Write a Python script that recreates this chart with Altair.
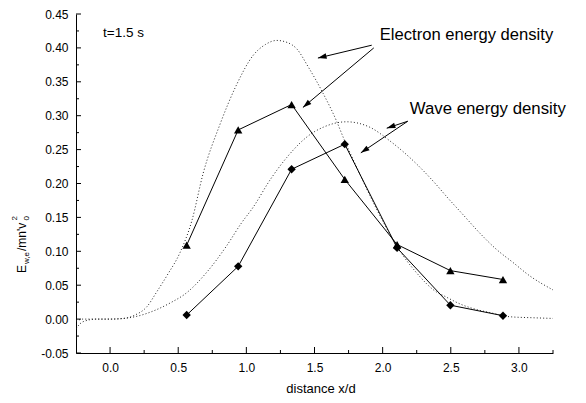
import math
import altair as alt
import pandas as pd

# ---------------- data ----------------
# measured series (markers)
pos_x = [0.562, 0.940, 1.332, 1.722, 2.106, 2.497, 2.883]
electron_y = [0.109, 0.279, 0.3165, 0.206, 0.110, 0.0715, 0.0584]   # triangles
wave_y = [0.006, 0.0778, 0.221, 0.258, 0.105, 0.0205, 0.005]        # diamonds

# dotted model curves
curveA_x = [-0.25, -0.2, -0.1, 0.0, 0.1, 0.183, 0.269, 0.342, 0.42, 0.513, 0.6, 0.683,
            0.806, 0.929, 1.05, 1.14, 1.222, 1.30, 1.368, 1.454, 1.563, 1.662, 1.711,
            1.8, 1.9, 2.0, 2.149, 2.25, 2.395, 2.443, 2.59, 2.663, 2.8, 2.932, 3.1, 3.25]
curveA_y = [-0.014, -0.004, 0.0, 0.0, 0.001, 0.006, 0.018, 0.04, 0.065, 0.098, 0.145, 0.215,
            0.287, 0.346, 0.389, 0.405, 0.411, 0.408, 0.399, 0.372, 0.333, 0.292, 0.268,
            0.228, 0.185, 0.145, 0.094, 0.068, 0.04, 0.035, 0.0205, 0.0156, 0.009, 0.0035, 0.002, 0.001]

curveB_x = [-0.25, -0.2, -0.1, 0.0, 0.1, 0.183, 0.33, 0.452, 0.55, 0.709, 0.855, 0.965, 1.05,
            1.173, 1.295, 1.466, 1.564, 1.735, 1.906, 2.052, 2.248, 2.395, 2.468, 2.59,
            2.712, 2.834, 2.956, 3.078, 3.25]
curveB_y = [-0.003, 0.0, 0.0, 0.0, 0.001, 0.0035, 0.013, 0.025, 0.037, 0.069, 0.108, 0.142, 0.165,
            0.205, 0.238, 0.272, 0.283, 0.291, 0.283, 0.263, 0.229, 0.198, 0.181, 0.154,
            0.127, 0.103, 0.0836, 0.064, 0.043]

x_major = [0.0, 0.5, 1.0, 1.5, 2.0, 2.5, 3.0]
x_minor = [0.25, 0.75, 1.25, 1.75, 2.25, 2.75, 3.25]
y_major = [-0.05, 0.0, 0.05, 0.10, 0.15, 0.20, 0.25, 0.30, 0.35, 0.40, 0.45]
y_minor = [-0.025, 0.025, 0.075, 0.125, 0.175, 0.225, 0.275, 0.325, 0.375, 0.425]

# annotation texts (data coords: x, baseline y)
ann_text = ["t=1.5 s", "Electron energy density", "Wave energy density"]
ann_x = [-0.051, 1.979, 2.199]
ann_y = [0.4155, 0.4115, 0.302]
ann_size = [13.5, 16.6, 16.8]

# arrows: start -> tip (data coords)
arr_x1 = [1.920, 1.935, 2.184, 2.184]
arr_y1 = [0.404, 0.400, 0.2918, 0.2918]
arr_x2 = [1.525, 1.415, 2.030, 1.840]
arr_y2 = [0.385, 0.3122, 0.2816, 0.2452]

# ---------------- layout ----------------
W, H = 477, 339
XD = [-0.25, 3.25]
YD = [-0.05, 0.45]
FONT = "Liberation Sans"
sx = W / (XD[1] - XD[0])
sy = H / (YD[1] - YD[0])

xs = alt.Scale(domain=XD, nice=False, zero=False)
ys = alt.Scale(domain=YD, nice=False, zero=False)

fix_minus = "replace(datum.label, '\u2212', '-')"
axis_x = alt.Axis(values=x_major, format=".1f", title=None, ticks=False, tickSize=0,
                  grid=False, domainColor="black", labelColor="black", labelFont=FONT,
                  labelFontSize=12, labelPadding=9, labelOverlap=False, labelExpr=fix_minus)
axis_y = alt.Axis(values=y_major, format=".2f", title=None, ticks=False, tickSize=0,
                  grid=False, domainColor="black", labelColor="black", labelFont=FONT,
                  labelFontSize=12, labelPadding=8, labelOverlap=False, labelExpr=fix_minus)

X = lambda f: alt.X(f, scale=xs, axis=axis_x)
Y = lambda f: alt.Y(f, scale=ys, axis=axis_y)

dfA = pd.DataFrame({"x": curveA_x, "y": curveA_y})
dfB = pd.DataFrame({"x": curveB_x, "y": curveB_y})
dotted = dict(color="#222222", strokeWidth=1, strokeDash=[1, 2.2], clip=True,
              interpolate="monotone")
curveA = alt.Chart(dfA).mark_line(**dotted).encode(x=X("x:Q"), y=Y("y:Q"))
curveB = alt.Chart(dfB).mark_line(**dotted).encode(x=X("x:Q"), y=Y("y:Q"))

dfE = pd.DataFrame({"x": pos_x, "y": electron_y})
dfW = pd.DataFrame({"x": pos_x, "y": wave_y})
lineE = alt.Chart(dfE).mark_line(color="black", strokeWidth=1).encode(x=X("x:Q"), y=Y("y:Q"))
ptsE = alt.Chart(dfE).mark_point(shape="triangle-up", filled=True, color="black", size=70,
                                 opacity=1).encode(x=X("x:Q"), y=Y("y:Q"))
lineW = alt.Chart(dfW).mark_line(color="black", strokeWidth=1).encode(x=X("x:Q"), y=Y("y:Q"))
ptsW = alt.Chart(dfW).mark_point(shape="diamond", filled=True, color="black", size=70,
                                 opacity=1).encode(x=X("x:Q"), y=Y("y:Q"))

# inward ticks
tx_major = alt.Chart(pd.DataFrame({"x": x_major})).mark_rule(color="black").encode(
    x=X("x:Q"), y=alt.value(H), y2=alt.value(H - 6))
tx_minor = alt.Chart(pd.DataFrame({"x": x_minor})).mark_rule(color="black").encode(
    x=X("x:Q"), y=alt.value(H), y2=alt.value(H - 3))
ty_major = alt.Chart(pd.DataFrame({"y": y_major})).mark_rule(color="black").encode(
    y=Y("y:Q"), x=alt.value(0), x2=alt.value(5))
ty_minor = alt.Chart(pd.DataFrame({"y": y_minor})).mark_rule(color="black").encode(
    y=Y("y:Q"), x=alt.value(0), x2=alt.value(3))

# annotations
ann_layers = []
for t, ax_, ay_, fs in zip(ann_text, ann_x, ann_y, ann_size):
    ann_layers.append(
        alt.Chart(pd.DataFrame({"x": [ax_], "y": [ay_], "t": [t]})).mark_text(
            align="left", baseline="alphabetic", font=FONT, fontSize=fs, color="black"
        ).encode(x=X("x:Q"), y=Y("y:Q"), text="t:N"))

angles = []
for a, b, c, d in zip(arr_x1, arr_y1, arr_x2, arr_y2):
    dx = (c - a) * sx
    dy = -(d - b) * sy
    angles.append(math.degrees(math.atan2(dx, -dy)) % 360)
dfArr = pd.DataFrame({"x": arr_x1, "y": arr_y1, "x2": arr_x2, "y2": arr_y2, "ang": angles})
arr_lines = alt.Chart(dfArr).mark_rule(color="black", strokeWidth=1).encode(
    x=X("x:Q"), y=Y("y:Q"), x2="x2:Q", y2="y2:Q")
arr_heads = alt.Chart(dfArr).mark_point(
    shape="M0,0L-0.32,1L0.32,1Z", filled=True, color="black", size=300, opacity=1
).encode(x=X("x2:Q"), y=Y("y2:Q"), angle=alt.Angle("ang:Q", scale=None))

# y-axis title pieces (pixel positions relative to plot area)
def vtext(txt, px, py, fs):
    return alt.Chart(pd.DataFrame({"t": [txt]})).mark_text(
        angle=270, align="left", baseline="alphabetic", font=FONT, fontSize=fs, color="black"
    ).encode(x=alt.value(px), y=alt.value(py), text="t:N")

ytitle = [
    vtext("E", -50, 259, 12),
    vtext("w,e", -47.5, 250, 8),
    vtext("/mn'v", -50, 237, 12),
    vtext("0", -47, 206.5, 8),
    vtext("2", -59, 206.5, 8),
]

xtitle = alt.Chart(pd.DataFrame({"t": ["distance x/d"]})).mark_text(
    align="center", baseline="alphabetic", font=FONT, fontSize=13, color="black"
).encode(x=alt.value(245), y=alt.value(379), text="t:N")

chart = alt.layer(
    curveA, curveB, lineE, lineW, ptsE, ptsW,
    tx_major, tx_minor, ty_major, ty_minor,
    arr_lines, arr_heads, *ann_layers, *ytitle, xtitle
).properties(
    width=W, height=H,
    autosize=alt.AutoSizeParams(type="none"),
    padding={"left": 68, "top": 6, "right": 25, "bottom": 45},
).configure_view(stroke=None).configure_axis(domainWidth=1, labelOverlap=False)

chart.save("out.html", embed_options={"renderer": "svg", "actions": False})
